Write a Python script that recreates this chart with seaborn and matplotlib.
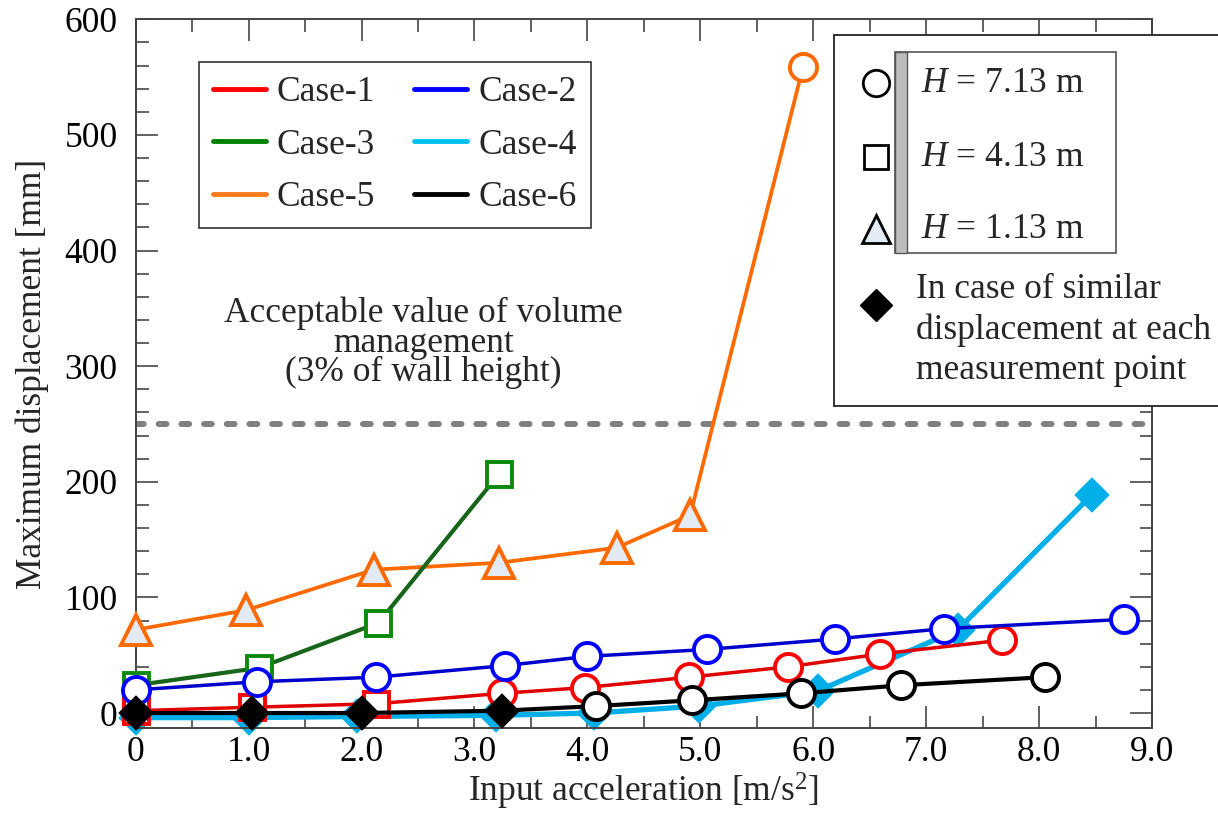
import numpy as np
import pandas as pd
import matplotlib
matplotlib.use("Agg")
import matplotlib.pyplot as plt
import seaborn as sns
from matplotlib.lines import Line2D
from matplotlib.patches import Rectangle
from matplotlib.ticker import MultipleLocator

# ─── Data ─────────────────────────────────────────────────────────────────────
# marker code: o = H 7.13 m, s = H 4.13 m, ^ = H 1.13 m, D = similar everywhere
case1_x = [0.0, 1.03, 2.13, 3.24, 3.98, 4.90, 5.78, 6.59, 7.67]
case1_y = [2, 5, 8, 17, 22, 31, 40, 51, 63]
case1_m = ["s", "s", "s", "o", "o", "o", "o", "o", "o"]

case2_x = [0.0, 1.07, 2.13, 3.27, 4.00, 5.06, 6.19, 7.16, 8.75]
case2_y = [20, 27, 31, 41, 49, 55, 64, 73, 81]
case2_m = ["o"] * 9

case3_x = [0.0, 1.09, 2.15, 3.22]
case3_y = [24, 39, 78, 207]
case3_m = ["s"] * 4

case4_x = [0.0, 1.0, 1.96, 3.19, 4.06, 4.99, 6.04, 7.28, 8.47]
case4_y = [-4, -4, -3, -2, 0, 6, 19, 72, 189]
case4_m = ["D"] * 9

case5_x = [0.0, 0.98, 2.11, 3.22, 4.26, 4.91, 5.91]
case5_y = [72, 89, 124, 130, 143, 171, 559]
case5_m = ["^", "^", "^", "^", "^", "^", "o"]

case6_x = [0.0, 1.03, 2.0, 3.24, 4.08, 4.93, 5.89, 6.78, 8.05]
case6_y = [0, 0, 0, 2, 6, 11, 17, 24, 31]
case6_m = ["D", "D", "D", "D", "o", "o", "o", "o", "o"]

ACCEPTABLE = 250
x_ticks = [0, 1, 2, 3, 4, 5, 6, 7, 8, 9]
x_tick_labels = ["0", "1.0", "2.0", "3.0", "4.0", "5.0", "6.0", "7.0", "8.0", "9.0"]
y_ticks = [0, 100, 200, 300, 400, 500, 600]
h_labels = ["$H$ = 7.13 m", "$H$ = 4.13 m", "$H$ = 1.13 m"]

# ─── Styles ───────────────────────────────────────────────────────────────────
series = [
    # name, x, y, markers, line colour, marker colour, lw, zorder
    ("Case-5", case5_x, case5_y, case5_m, "#ff6a00", "#ff6a00", 2.7, 3),
    ("Case-3", case3_x, case3_y, case3_m, "#17651a", "#0a8a0a", 3.0, 4),
    ("Case-4", case4_x, case4_y, case4_m, "#00aee8", "#00aee8", 3.8, 2),
    ("Case-1", case1_x, case1_y, case1_m, "#e00000", "#ff0000", 2.5, 5),
    ("Case-2", case2_x, case2_y, case2_m, "#0000cc", "#0000ff", 2.5, 6),
    ("Case-6", case6_x, case6_y, case6_m, "#000000", "#000000", 3.0, 7),
]
legend_colors = {
    "Case-1": "#ff0000", "Case-2": "#0000ff", "Case-3": "#008000",
    "Case-4": "#00c0f0", "Case-5": "#ff7a1a", "Case-6": "#000000",
}
TRI_FACE = "#e4eaf4"
MS = {"o": 19.5, "s": 18, "^": 21, "D": 15}

sns.set_theme(style="ticks")
plt.rcParams["font.family"] = ["Liberation Serif", "DejaVu Serif"]
plt.rcParams["mathtext.fontset"] = "custom"
plt.rcParams["mathtext.rm"] = "Liberation Serif"
plt.rcParams["mathtext.it"] = "Liberation Serif:italic"
FS = 25.5

fig = plt.figure(figsize=(12.18, 8.13), dpi=100)
ax = fig.add_axes([0.1114, 0.1045, 0.8344, 0.8717])

for name, xs, ys, ms, lc, mc, lw, z in series:
    df = pd.DataFrame({"x": xs, "y": ys, "m": ms})
    sns.lineplot(data=df, x="x", y="y", sort=False, estimator=None,
                 color=lc, lw=lw, ax=ax, zorder=z)
    for mk, grp in df.groupby("m"):
        if mk == "D":
            face = mc
        elif mk == "^":
            face = TRI_FACE
        else:
            face = "white"
        ax.plot(grp["x"], grp["y"], ls="none", marker=mk, ms=MS[mk],
                mfc=face, mec=mc, mew=2.8, zorder=z + 0.5, clip_on=False)

ax.axhline(ACCEPTABLE, color="#808080", lw=4.3, ls=(0, (1.3, 2.5)),
           dash_capstyle="round", zorder=1)
ax.text(2.55, 320, "Acceptable value of volume\nmanagement\n(3% of wall height)",
        ha="center", va="center", fontsize=FS, linespacing=0.86, zorder=1)

ax.set_xlim(0, 9)
ax.set_ylim(-13, 600)
ax.set_xticks(x_ticks)
ax.set_xticklabels(x_tick_labels)
ax.set_yticks(y_ticks)
ax.xaxis.set_minor_locator(MultipleLocator(0.5))
ax.yaxis.set_minor_locator(MultipleLocator(20))
ax.tick_params(which="both", direction="in", top=True, right=True,
               color="#555555", width=1.3, labelsize=FS, labelcolor="black")
ax.tick_params(which="major", length=16)
ax.tick_params(which="minor", length=9)
ax.tick_params(axis="y", which="major", pad=13)
ax.tick_params(axis="x", which="major", pad=6)
for sp in ax.spines.values():
    sp.set_color("#444444")
    sp.set_linewidth(1.4)

ax.set_xlabel("Input acceleration [m/s$^2$]", fontsize=FS, labelpad=1)
ax.set_ylabel("Maximum displacement [mm]", fontsize=FS, labelpad=11)

# ─── Legend 1: line colours ───────────────────────────────────────────────────
order = ["Case-1", "Case-3", "Case-5", "Case-2", "Case-4", "Case-6"]
handles = [Line2D([], [], color=legend_colors[n], lw=3.5, solid_capstyle="round")
           for n in order]
leg = fig.legend(handles, order, loc="upper left",
                 bbox_to_anchor=(199 / 1218, 1 - 62 / 813), ncol=2,
                 fontsize=FS, frameon=True, fancybox=False, framealpha=1,
                 edgecolor="#333333", handlelength=1.5, handletextpad=0.3,
                 columnspacing=1.1, labelspacing=0.55, borderpad=0.4,
                 borderaxespad=0)
leg.get_frame().set_linewidth(1.2)

# ─── Legend 2: marker meanings (drawn on an overlay in pixel units) ───────────
ov = fig.add_axes([0, 0, 1, 1], zorder=10)
ov.set_xlim(0, 1218)
ov.set_ylim(813, 0)
ov.axis("off")
ov.add_patch(Rectangle((834, 35), 420, 371, fill=True, fc="white",
                       ec="#222222", lw=1.3, clip_on=False))
ov.add_patch(Rectangle((895, 52), 221, 201, fill=False, ec="#555555", lw=1.2))
ov.add_patch(Rectangle((895, 52), 12, 201, fc="#bdbdbd", ec="#555555", lw=1.0))
marker_rows = [("o", "white", 83), ("s", "white", 157), ("^", TRI_FACE, 229)]
for (mk, face, yy), lab in zip(marker_rows, h_labels):
    ov.plot([876], [yy], marker=mk, ms=MS[mk] - 0.5, mfc=face, mec="black", mew=2.0)
    ov.text(921, yy, lab, fontsize=FS, ha="left", va="center")
ov.plot([876], [305], marker="D", ms=16, mfc="black", mec="black")
ov.text(916, 330, "In case of similar\ndisplacement at each\nmeasurement point",
        fontsize=FS, ha="left", va="center", linespacing=1.27)

fig.savefig("out.png", dpi=100)
